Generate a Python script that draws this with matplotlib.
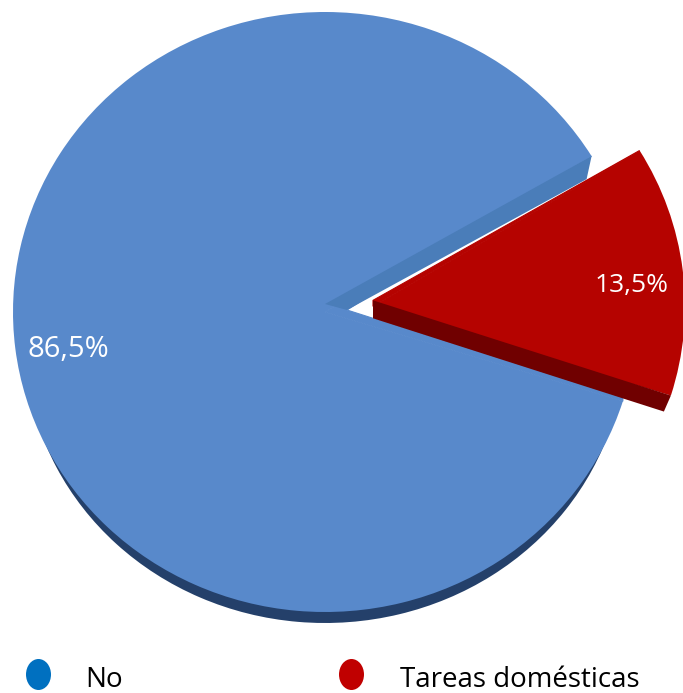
import matplotlib
matplotlib.use("Agg")
import numpy as np
import matplotlib.pyplot as plt
from matplotlib.patches import Ellipse, Polygon, Rectangle
from matplotlib.transforms import Affine2D

labels = ["No", "Tareas domésticas"]
values = [86.5, 13.5]
value_text = ["86,5%", "13,5%"]
top_colors = ["#5889CB", "#B50300"]
side_colors = ["#24406A", "#700000"]
legend_colors = ["#0070C0", "#C00000"]
WALL = "#4A7DB9"

W, H = 683, 693
fig = plt.figure(figsize=(W/100, H/100), dpi=100)
ax = fig.add_axes([0, 0, 1, 1])
plt.rcParams['font.family'] = ['Open Sans', 'DejaVu Sans']

START = 31.3
EXPLODE = 0.155
RX, RY = 312, 300
CX, CY = 325, H - 312
T = Affine2D().scale(RX, RY).translate(CX, CY)


def pie(colors, rx=RX, ry=RY, dy=0, z=1):
    w, _ = ax.pie(values, startangle=START, colors=colors, radius=1,
                  explode=[0, EXPLODE],
                  wedgeprops=dict(linewidth=0, zorder=z), frame=True)
    tr = Affine2D().scale(rx, ry).translate(CX, CY - dy) + ax.transData
    for p in w:
        p.set_transform(tr)
    return w


def rim(w, deg):
    a = np.radians(deg)
    return T.transform(np.array(w.center) + w.r*np.array([np.cos(a), np.sin(a)]))


# Dark rim: a narrower pie lying lower, so it tapers away towards the sides
side = pie(side_colors, rx=300, ry=281, dy=30, z=1)
side[1].set_visible(False)
side[0].set_clip_on(True)
side[0].set_clip_path(Rectangle((0, 0), W, H - 420, transform=ax.transData))
top = pie(top_colors, z=2)
blue, red = top

# Perspective: the drawn apex sits above the centre of the ellipse
b_c = T.transform(blue.center)
b_up = rim(blue, blue.theta1)
b_lo = rim(blue, blue.theta2)
b_apex = b_c + (0, 8)
b_inner = b_c + (22, 2)
ax.add_patch(Polygon([b_c, b_up, b_inner, b_lo + (0, 3), b_lo], closed=True,
                     fc=top_colors[0], ec=top_colors[0], lw=0.8, zorder=2))
ax.add_patch(Polygon([b_apex, b_up, b_up + (-5, -23), b_inner], closed=True,
                     fc=WALL, ec="none", zorder=3))

r_c = T.transform(red.center)
r_up = rim(red, red.theta2)
r_lo = rim(red, red.theta1)
r_apex = r_c + (0, 6)
red.set_zorder(4)
ax.add_patch(Polygon([r_c, r_up, r_apex], closed=True,
                     fc=top_colors[1], ec=top_colors[1], lw=0.8, zorder=4))
ax.add_patch(Polygon([r_apex, r_lo, r_lo + (-7, -16), r_apex + (0, -18)], closed=True,
                     fc=side_colors[1], ec="none", zorder=5))

ax.set_aspect("auto")
ax.set_xlim(0, W)
ax.set_ylim(0, H)
ax.axis("off")

ax.text(68, H-357, value_text[0], color="white", fontsize=21, ha="center", va="baseline", zorder=6)
ax.text(632, H-292, value_text[1], color="white", fontsize=19, ha="center", va="baseline", zorder=6)

for x, col, tx, lab in zip([38.5, 351.5], legend_colors, [85, 400], labels):
    ax.add_patch(Ellipse((x, H-674.5), 25, 31, fc=col, ec="none"))
    ax.text(tx, H-687, lab, color="black", fontsize=20, ha="left", va="baseline")

fig.savefig("out.png", dpi=100)
